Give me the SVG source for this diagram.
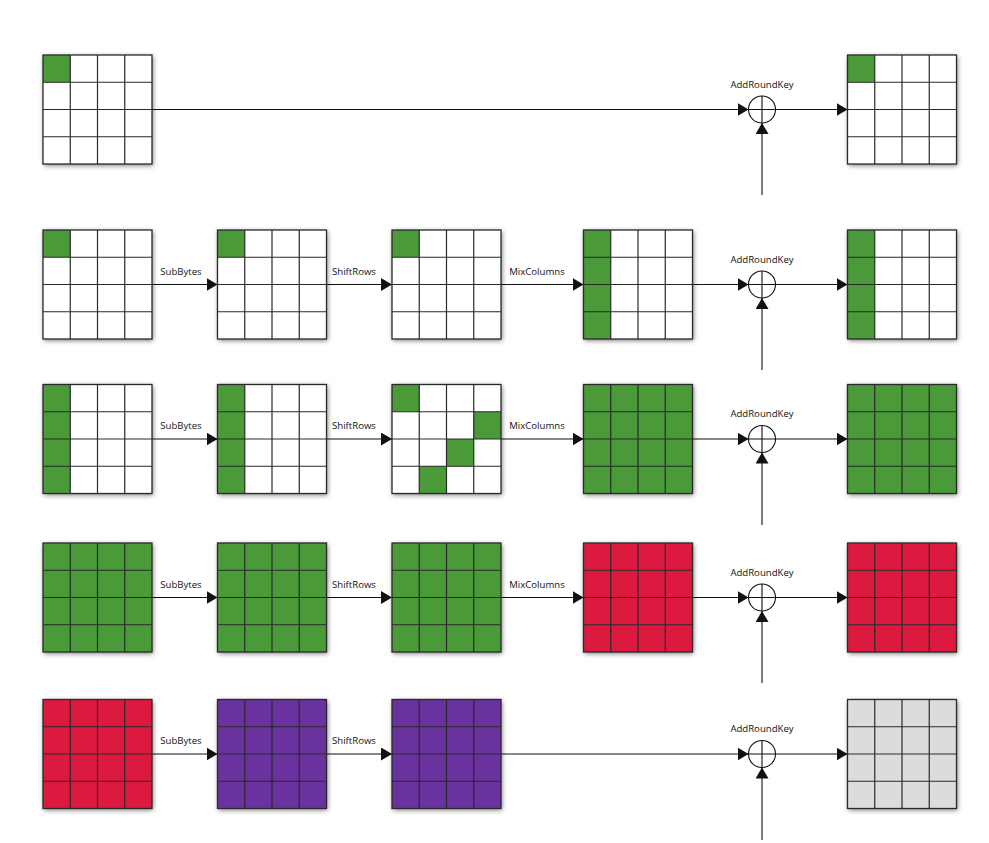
<svg xmlns="http://www.w3.org/2000/svg" xmlns:xlink="http://www.w3.org/1999/xlink" width="989" height="843" viewBox="0 0 989 843">
<style>
.bg{fill:#fff;filter:url(#sh)}
.g{fill:#4a9a3a}
.r{fill:#dc1a40}
.p{fill:#6a329e}
.k{fill:#dcdcdc}
.ln{fill:none;stroke:#2a2a2a;stroke-width:1.2}
.bd{fill:none;stroke:#2a2a2a;stroke-width:1.3}
.c{fill:none;stroke:#111;stroke-width:1.1}
.a{fill:none;stroke:#111;stroke-width:1.1;marker-end:url(#ah)}
.x{fill:none;stroke:#111;stroke-width:1.1}
text{font-family:"Open Sans","Noto Sans",sans-serif;font-size:9.6px;fill:#111;text-anchor:middle}
</style>
<defs>
<filter id="sh" x="-15%" y="-15%" width="130%" height="130%">
<feDropShadow dx="1" dy="1.5" stdDeviation="2.5" flood-color="#000" flood-opacity="0.55"/>
</filter>
<marker id="ah" markerUnits="userSpaceOnUse" markerWidth="11" markerHeight="13" refX="11" refY="6.5" orient="auto">
<path d="M0,0L11,6.5L0,13z" fill="#111"/>
</marker>
<path id="gl" d="M27.25 0V109M54.5 0V109M81.75 0V109M0 27.25H109M0 54.5H109M0 81.75H109"/>
<rect id="gb" width="109" height="109"/>
<rect id="c1" width="27.25" height="27.25"/>
<path id="col" d="M0 0H27.25V109H0z"/>
</defs>
<rect width="989" height="843" fill="#fff"/>

<g id="connectors">
<line class="c" x1="152" y1="109.5" x2="748.5" y2="109.5"/>
<line class="a" x1="748" y1="109.5" x2="748.5" y2="109.5"/>
<line class="a" x1="775.5" y1="109.5" x2="847.5" y2="109.5"/>
<line class="a" x1="762" y1="195" x2="762" y2="123"/>

<line class="a" x1="152" y1="284.5" x2="217.5" y2="284.5"/>
<line class="a" x1="326.5" y1="284.5" x2="392" y2="284.5"/>
<line class="a" x1="501" y1="284.5" x2="583.5" y2="284.5"/>
<line class="a" x1="692.5" y1="284.5" x2="748.5" y2="284.5"/>
<line class="a" x1="775.5" y1="284.5" x2="847.5" y2="284.5"/>
<line class="a" x1="762" y1="370" x2="762" y2="298"/>

<line class="a" x1="152" y1="439" x2="217.5" y2="439"/>
<line class="a" x1="326.5" y1="439" x2="392" y2="439"/>
<line class="a" x1="501" y1="439" x2="583.5" y2="439"/>
<line class="a" x1="692.5" y1="439" x2="748.5" y2="439"/>
<line class="a" x1="775.5" y1="439" x2="847.5" y2="439"/>
<line class="a" x1="762" y1="525" x2="762" y2="452.5"/>

<line class="a" x1="152" y1="597.5" x2="217.5" y2="597.5"/>
<line class="a" x1="326.5" y1="597.5" x2="392" y2="597.5"/>
<line class="a" x1="501" y1="597.5" x2="583.5" y2="597.5"/>
<line class="a" x1="692.5" y1="597.5" x2="748.5" y2="597.5"/>
<line class="a" x1="775.5" y1="597.5" x2="847.5" y2="597.5"/>
<line class="a" x1="762" y1="683" x2="762" y2="611"/>

<line class="a" x1="152" y1="754" x2="217.5" y2="754"/>
<line class="a" x1="326.5" y1="754" x2="392" y2="754"/>
<line class="a" x1="501" y1="754" x2="748.5" y2="754"/>
<line class="a" x1="775.5" y1="754" x2="847.5" y2="754"/>
<line class="a" x1="762" y1="840" x2="762" y2="767.5"/>

<text x="181" y="274.5">SubBytes</text>
<text x="354" y="274.5">ShiftRows</text>
<text x="537" y="274.5">MixColumns</text>
<text x="181" y="429">SubBytes</text>
<text x="354" y="429">ShiftRows</text>
<text x="537" y="429">MixColumns</text>
<text x="181" y="587.5">SubBytes</text>
<text x="354" y="587.5">ShiftRows</text>
<text x="537" y="587.5">MixColumns</text>
<text x="181" y="744">SubBytes</text>
<text x="354" y="744">ShiftRows</text>
</g>

<g id="xor1"><circle class="x" cx="762" cy="109.5" r="13.5"/><path class="x" d="M748.5 109.5H775.5M762 96V123"/><text x="762" y="87.5">AddRoundKey</text></g>
<g id="xor2"><circle class="x" cx="762" cy="284.5" r="13.5"/><path class="x" d="M748.5 284.5H775.5M762 271V298"/><text x="762" y="262.5">AddRoundKey</text></g>
<g id="xor3"><circle class="x" cx="762" cy="439" r="13.5"/><path class="x" d="M748.5 439H775.5M762 425.5V452.5"/><text x="762" y="417">AddRoundKey</text></g>
<g id="xor4"><circle class="x" cx="762" cy="597.5" r="13.5"/><path class="x" d="M748.5 597.5H775.5M762 584V611"/><text x="762" y="575.5">AddRoundKey</text></g>
<g id="xor5"><circle class="x" cx="762" cy="754" r="13.5"/><path class="x" d="M748.5 754H775.5M762 740.5V767.5"/><text x="762" y="732">AddRoundKey</text></g>

<!-- Row 1 -->
<g id="r1c1" transform="translate(43,55)"><use href="#gb" class="bg"/><use href="#c1" class="g"/><use href="#gl" class="ln"/><use href="#gb" class="bd"/></g>
<g id="r1c5" transform="translate(847.5,55)"><use href="#gb" class="bg"/><use href="#c1" class="g"/><use href="#gl" class="ln"/><use href="#gb" class="bd"/></g>

<!-- Row 2 -->
<g id="r2c1" transform="translate(43,230)"><use href="#gb" class="bg"/><use href="#c1" class="g"/><use href="#gl" class="ln"/><use href="#gb" class="bd"/></g>
<g id="r2c2" transform="translate(217.5,230)"><use href="#gb" class="bg"/><use href="#c1" class="g"/><use href="#gl" class="ln"/><use href="#gb" class="bd"/></g>
<g id="r2c3" transform="translate(392,230)"><use href="#gb" class="bg"/><use href="#c1" class="g"/><use href="#gl" class="ln"/><use href="#gb" class="bd"/></g>
<g id="r2c4" transform="translate(583.5,230)"><use href="#gb" class="bg"/><use href="#col" class="g"/><use href="#gl" class="ln"/><use href="#gb" class="bd"/></g>
<g id="r2c5" transform="translate(847.5,230)"><use href="#gb" class="bg"/><use href="#col" class="g"/><use href="#gl" class="ln"/><use href="#gb" class="bd"/></g>

<!-- Row 3 -->
<g id="r3c1" transform="translate(43,384.5)"><use href="#gb" class="bg"/><use href="#col" class="g"/><use href="#gl" class="ln"/><use href="#gb" class="bd"/></g>
<g id="r3c2" transform="translate(217.5,384.5)"><use href="#gb" class="bg"/><use href="#col" class="g"/><use href="#gl" class="ln"/><use href="#gb" class="bd"/></g>
<g id="r3c3" transform="translate(392,384.5)"><use href="#gb" class="bg"/><use href="#c1" class="g"/><use href="#c1" class="g" x="81.75" y="27.25"/><use href="#c1" class="g" x="54.5" y="54.5"/><use href="#c1" class="g" x="27.25" y="81.75"/><use href="#gl" class="ln"/><use href="#gb" class="bd"/></g>
<g id="r3c4" transform="translate(583.5,384.5)"><use href="#gb" class="bg"/><use href="#gb" class="g"/><use href="#gl" class="ln"/><use href="#gb" class="bd"/></g>
<g id="r3c5" transform="translate(847.5,384.5)"><use href="#gb" class="bg"/><use href="#gb" class="g"/><use href="#gl" class="ln"/><use href="#gb" class="bd"/></g>

<!-- Row 4 -->
<g id="r4c1" transform="translate(43,543)"><use href="#gb" class="bg"/><use href="#gb" class="g"/><use href="#gl" class="ln"/><use href="#gb" class="bd"/></g>
<g id="r4c2" transform="translate(217.5,543)"><use href="#gb" class="bg"/><use href="#gb" class="g"/><use href="#gl" class="ln"/><use href="#gb" class="bd"/></g>
<g id="r4c3" transform="translate(392,543)"><use href="#gb" class="bg"/><use href="#gb" class="g"/><use href="#gl" class="ln"/><use href="#gb" class="bd"/></g>
<g id="r4c4" transform="translate(583.5,543)"><use href="#gb" class="bg"/><use href="#gb" class="r"/><use href="#gl" class="ln"/><use href="#gb" class="bd"/></g>
<g id="r4c5" transform="translate(847.5,543)"><use href="#gb" class="bg"/><use href="#gb" class="r"/><use href="#gl" class="ln"/><use href="#gb" class="bd"/></g>

<!-- Row 5 -->
<g id="r5c1" transform="translate(43,699.5)"><use href="#gb" class="bg"/><use href="#gb" class="r"/><use href="#gl" class="ln"/><use href="#gb" class="bd"/></g>
<g id="r5c2" transform="translate(217.5,699.5)"><use href="#gb" class="bg"/><use href="#gb" class="p"/><use href="#gl" class="ln"/><use href="#gb" class="bd"/></g>
<g id="r5c3" transform="translate(392,699.5)"><use href="#gb" class="bg"/><use href="#gb" class="p"/><use href="#gl" class="ln"/><use href="#gb" class="bd"/></g>
<g id="r5c5" transform="translate(847.5,699.5)"><use href="#gb" class="bg"/><use href="#gb" class="k"/><use href="#gl" class="ln"/><use href="#gb" class="bd"/></g>
</svg>
